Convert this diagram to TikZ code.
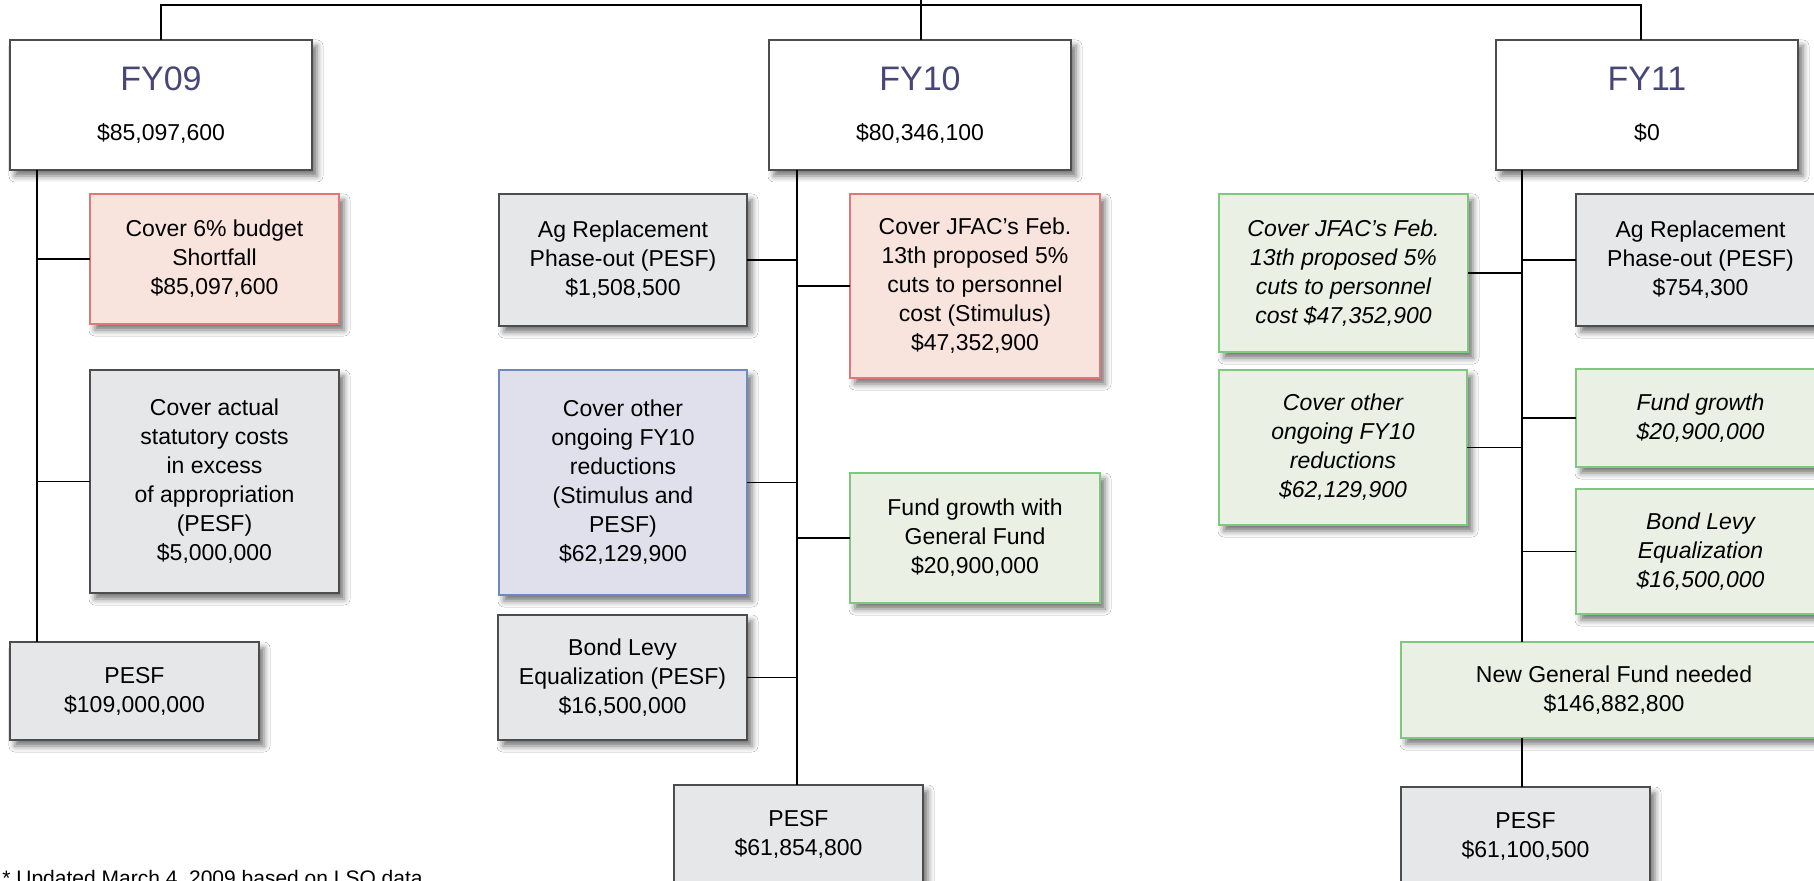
\documentclass[tikz,border=0pt]{standalone}
\usepackage{fontspec}
\setmainfont{Liberation Sans}
\usetikzlibrary{shadows.blur}
\definecolor{titleblue}{RGB}{70,70,120}
\definecolor{grayfill}{RGB}{230,231,233}
\definecolor{grayline}{RGB}{77,77,77}
\definecolor{redfill}{RGB}{248,228,220}
\definecolor{redline}{RGB}{224,120,120}
\definecolor{bluefill}{RGB}{224,224,236}
\definecolor{blueline}{RGB}{112,136,192}
\definecolor{greenfill}{RGB}{234,240,228}
\definecolor{greenline}{RGB}{128,200,128}
\tikzset{
  basebox/.style={rectangle, inner sep=0pt, outer sep=0pt, align=center,
    line width=0.7pt, font=\fontsize{11.5}{14.5}\selectfont,
    blur shadow={shadow xshift=2.5pt, shadow yshift=-3pt, shadow blur radius=3pt, shadow opacity=55}},
  whitebox/.style={basebox, fill=white, draw=grayline, font=\fontsize{11.5}{25}\selectfont},
  graybox/.style={basebox, fill=grayfill, draw=grayline},
  redbox/.style={basebox, fill=redfill, draw=redline},
  bluebox/.style={basebox, fill=bluefill, draw=blueline},
  greenbox/.style={basebox, fill=greenfill, draw=greenline},
  greenit/.style={greenbox, font=\fontsize{11.5}{14.5}\selectfont\itshape},
  conn/.style={draw=black, line width=0.6pt},
}
\newcommand{\boxat}[7]{%
  \node[#6, minimum width={(#4-(#2))*0.5pt}, minimum height={(#5-(#3))*0.5pt}]
    (#1) at ({(#2+#4)/2},{(#3+#5)/2}) {#7};}
\newcommand{\fytitle}[1]{{\color{titleblue}\fontsize{17}{25}\selectfont #1}}
\begin{document}
\begin{tikzpicture}[x=0.5pt, y=-0.5pt]
\clip (0,0) rectangle (1814,881);
\fill[white] (0,0) rectangle (1814,881);
% year boxes
\boxat{fy09}{10}{40}{312}{170}{whitebox}{\fytitle{FY09}\\\$85,097,600}
\boxat{fy10}{769}{40}{1071}{170}{whitebox}{\fytitle{FY10}\\\$80,346,100}
\boxat{fy11}{1496}{40}{1798}{170}{whitebox}{\fytitle{FY11}\\\$0}
% FY09
\boxat{c6}{90}{194}{339}{324}{redbox}{Cover 6\% budget\\Shortfall\\\$85,097,600}
\boxat{stat}{90}{370}{339}{593}{graybox}{Cover actual\\statutory costs\\in excess\\of appropriation\\(PESF)\\\$5,000,000}
\boxat{p09}{10}{642}{259}{740}{graybox}{PESF\\\$109,000,000}
% FY10
\boxat{ag10}{499}{194}{747}{326}{graybox}{Ag Replacement\\Phase-out (PESF)\\\$1,508,500}
\boxat{jfac10}{850}{194}{1100}{378}{redbox}{Cover JFAC’s Feb.\\13th proposed 5\%\\cuts to personnel\\cost (Stimulus)\\\$47,352,900}
\boxat{oth10}{499}{370}{747}{595}{bluebox}{Cover other\\ongoing FY10\\reductions\\(Stimulus and\\PESF)\\\$62,129,900}
\boxat{fg10}{850}{473}{1100}{603}{greenbox}{Fund growth with\\General Fund\\\$20,900,000}
\boxat{bl10}{498}{615}{747}{740}{graybox}{Bond Levy\\Equalization (PESF)\\\$16,500,000}
\boxat{p10}{674}{785}{923}{883}{graybox}{PESF\\\$61,854,800}
% FY11
\boxat{jfac11}{1219}{194}{1468}{352}{greenit}{Cover JFAC’s Feb.\\13th proposed 5\%\\cuts to personnel\\cost \$47,352,900}
\boxat{oth11}{1219}{370}{1467}{525}{greenit}{Cover other\\ongoing FY10\\reductions\\\$62,129,900}
\boxat{ag11}{1576}{194}{1825}{326}{graybox}{Ag Replacement\\Phase-out (PESF)\\\$754,300}
\boxat{fg11}{1576}{369}{1825}{467}{greenit}{Fund growth\\\$20,900,000}
\boxat{bl11}{1576}{489}{1825}{614}{greenit}{Bond Levy\\Equalization\\\$16,500,000}
\boxat{ngf}{1401}{642}{1827}{738}{greenbox}{New General Fund needed\\\$146,882,800}
\boxat{p11}{1401}{787}{1650}{885}{graybox}{PESF\\\$61,100,500}
% footnote
\node[anchor=base west, inner sep=0pt, font=\fontsize{10.5}{12}\selectfont] (note) at (2,885) {* Updated March 4, 2009 based on LSO data};
% top connectors
\coordinate (bar) at (0,5);
\coordinate (root) at (921,0);
\coordinate (d09) at (161,0);
\coordinate (d11) at (1641,0);
\coordinate (t09) at (37,0);
\coordinate (t10) at (797,0);
\coordinate (t11) at (1522,0);
\draw[conn] (fy09.north -| d09) -- (bar -| d09) -- (bar -| d11) -- (fy11.north -| d11);
\draw[conn] (root) -- (root |- fy10.north);
% FY09 trunk
\draw[conn] (fy09.south -| t09) -- (p09.north -| t09);
\draw[conn] (c6.west) -- (c6.west -| t09);
\draw[conn] (stat.west) -- (stat.west -| t09);
% FY10 trunk
\draw[conn] (fy10.south -| t10) -- (p10.north -| t10);
\draw[conn] (ag10.east) -- (ag10.east -| t10);
\draw[conn] (oth10.east) -- (oth10.east -| t10);
\draw[conn] (bl10.east) -- (bl10.east -| t10);
\draw[conn] (jfac10.west) -- (jfac10.west -| t10);
\draw[conn] (fg10.west) -- (fg10.west -| t10);
% FY11 trunk
\draw[conn] (fy11.south -| t11) -- (ngf.north -| t11);
\draw[conn] (ngf.south -| t11) -- (p11.north -| t11);
\draw[conn] (jfac11.east) -- (jfac11.east -| t11);
\draw[conn] (oth11.east) -- (oth11.east -| t11);
\draw[conn] (ag11.west) -- (ag11.west -| t11);
\draw[conn] (fg11.west) -- (fg11.west -| t11);
\draw[conn] (bl11.west) -- (bl11.west -| t11);
\end{tikzpicture}
\end{document}
